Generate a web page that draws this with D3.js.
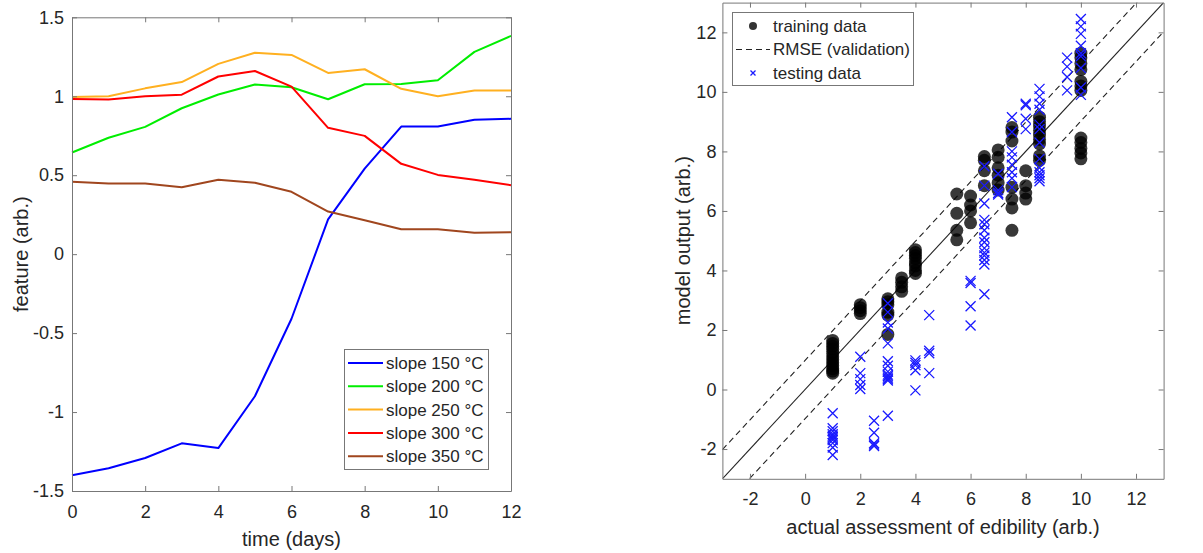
<!DOCTYPE html>
<html>
<head>
<meta charset="utf-8">
<script src="https://cdn.jsdelivr.net/npm/d3@7"></script>
<style>
  html, body { margin: 0; padding: 0; background: #fff; }
  svg { display: block; font-family: "Liberation Sans", Arial, Helvetica, sans-serif; }
</style>
</head>
<body>
<svg id="fig" width="1203" height="553"></svg>
<script>
// ---- feature curves (left panel) ----
const days = [0, 1, 2, 3, 4, 5, 6, 7, 8, 9, 10, 11, 12];
const slope150 = [-1.40, -1.356, -1.291, -1.198, -1.228, -0.90, -0.409, 0.22, 0.542, 0.808, 0.808, 0.851, 0.857];
const slope200 = [0.644, 0.737, 0.806, 0.924, 1.011, 1.074, 1.057, 0.981, 1.076, 1.078, 1.101, 1.281, 1.382];
const slope250 = [0.996, 1.0, 1.05, 1.09, 1.205, 1.275, 1.262, 1.148, 1.171, 1.047, 1.0, 1.036, 1.036];
const slope300 = [0.983, 0.979, 1.0, 1.01, 1.125, 1.16, 1.061, 0.80, 0.749, 0.572, 0.502, 0.471, 0.437];
const slope350 = [0.458, 0.447, 0.447, 0.424, 0.471, 0.452, 0.395, 0.27, 0.215, 0.158, 0.158, 0.135, 0.139];
const seriesNames = ["slope 150 °C", "slope 200 °C", "slope 250 °C", "slope 300 °C", "slope 350 °C"];
const seriesColors = ["#0000ff", "#00ee00", "#ffb020", "#ff0000", "#a0461e"];
const leftXTicks = [0, 2, 4, 6, 8, 10, 12];
const leftYTicks = [-1.5, -1, -0.5, 0, 0.5, 1, 1.5];

// ---- model predictions (right panel) ----
const trainLevels = [1, 2, 3, 3.5, 4, 5.5, 6, 6.5, 7, 7.5, 8, 8.5, 10];
const trainOutputs = [
  [1.65, 1.55, 1.45, 1.35, 1.22, 1.1, 1.0, 0.9, 0.8, 0.7, 0.62, 0.55],
  [2.85, 2.75, 2.65, 2.55],
  [3.05, 2.95, 2.85, 2.6, 2.5, 1.85],
  [3.75, 3.6, 3.45, 3.3],
  [4.7, 4.6, 4.5, 4.4, 4.25, 4.15, 4.0, 3.9],
  [6.57, 5.92, 5.35, 5.03],
  [6.5, 6.2, 6.0, 5.6],
  [7.83, 7.7, 7.35, 6.85],
  [8.05, 7.8, 7.45, 7.2, 6.95, 6.7],
  [8.8, 8.65, 8.35, 6.8, 6.4, 6.1, 5.35],
  [7.35, 6.85, 6.6, 6.4],
  [9.15, 9.0, 8.85, 8.7, 8.55, 8.4, 8.25, 7.85, 7.7],
  [11.3, 11.15, 10.95, 10.75, 10.35, 10.2, 10.05, 8.45, 8.3, 8.1, 7.95, 7.75]
];
const testLevels = [1, 2, 2.5, 3, 4, 4.5, 6, 6.5, 7, 7.5, 8, 8.5, 9.5, 10];
const testOutputs = [
  [-0.8, -1.3, -1.4, -1.5, -1.55, -1.6, -1.65, -1.7, -1.8, -1.95, -2.2],
  [1.1, 0.55, 0.35, 0.15, 0.02],
  [-1.05, -1.45, -1.8, -1.9, -1.85],
  [2.9, 2.6, 2.25, 2.05, 1.55, 0.95, 0.8, 0.6, 0.5, 0.45, 0.4, 0.35, 0.3, -0.88],
  [0.98, 0.9, 0.82, 0.65, -0.03],
  [2.5, 1.3, 1.22, 0.55],
  [3.65, 3.58, 2.8, 2.15],
  [7.5, 6.85, 6.25, 5.7, 5.55, 5.35, 5.1, 4.95, 4.75, 4.6, 4.5, 4.35, 4.2, 3.2],
  [7.25, 6.7, 6.6, 6.55],
  [9.15, 8.65, 8.0, 7.8, 7.55, 7.3, 7.1, 6.8],
  [9.6, 9.55, 9.1, 8.75],
  [10.1, 9.85, 9.6, 9.4, 8.9, 8.75, 8.3, 7.75, 7.45, 7.3, 7.2, 7.1, 7.0],
  [11.15, 10.85, 10.5, 10.05],
  [12.45, 12.2, 11.95, 11.55, 11.3, 11.2, 10.8, 10.15, 9.9]
];
const rmseValidation = 0.98;
const rightTicks = [-2, 0, 2, 4, 6, 8, 10, 12];
const legendRight = ["training data", "RMSE (validation)", "testing data"];

const svg = d3.select("#fig");
const axisColor = "#777";
const textColor = "#262626";

function styleAxis(g) {
  g.selectAll("path.domain").attr("stroke", axisColor).attr("stroke-width", 1);
  g.selectAll(".tick line").attr("stroke", axisColor).attr("stroke-width", 1);
  g.selectAll(".tick text").attr("fill", textColor).style("font-size", "18px")
    .style("font-family", '"Liberation Sans", Arial, sans-serif');
}

function frame(x, y, x0, x1, y0, y1, xt, yt, padX, padY) {
  const g = svg.append("g");
  g.append("g").attr("transform", `translate(0,${y0})`)
    .call(d3.axisBottom(x).tickValues(xt).tickFormat(d => String(d)).tickSizeInner(-5).tickSizeOuter(0).tickPadding(padX))
    .call(styleAxis);
  g.append("g").attr("transform", `translate(0,${y1})`)
    .call(d3.axisTop(x).tickValues(xt).tickFormat("").tickSizeInner(-5).tickSizeOuter(0))
    .call(styleAxis);
  g.append("g").attr("transform", `translate(${x0},0)`)
    .call(d3.axisLeft(y).tickValues(yt).tickFormat(d => String(d)).tickSizeInner(-5).tickSizeOuter(0).tickPadding(padY))
    .call(styleAxis);
  g.append("g").attr("transform", `translate(${x1},0)`)
    .call(d3.axisRight(y).tickValues(yt).tickFormat("").tickSizeInner(-5).tickSizeOuter(0))
    .call(styleAxis);
  return g;
}

// ================= left panel =================
{
  const x0 = 72, x1 = 511, yTop = 17.3, yBot = 491;
  const x = d3.scaleLinear().domain([0, 12]).range([x0, x1]);
  const y = d3.scaleLinear().domain([-1.5, 1.5]).range([yBot, yTop]);

  const series = [slope150, slope200, slope250, slope300, slope350];
  const line = d3.line().x((d, i) => x(days[i])).y(d => y(d));
  const plot = svg.append("g");
  series.forEach((s, k) => {
    plot.append("path").datum(s).attr("d", line)
      .attr("fill", "none").attr("stroke", seriesColors[k]).attr("stroke-width", 2)
      .attr("stroke-linejoin", "round");
  });

  frame(x, y, x0, x1, yBot, yTop, leftXTicks, leftYTicks, 14, 8);

  svg.append("text").attr("x", (x0 + x1) / 2).attr("y", 546)
    .attr("text-anchor", "middle").attr("fill", textColor).style("font-size", "20px")
    .text("time (days)");
  svg.append("text").attr("transform", `translate(28,${(yTop + yBot) / 2}) rotate(-90)`)
    .attr("text-anchor", "middle").attr("fill", textColor).style("font-size", "20px")
    .text("feature (arb.)");

  // legend
  const lg = svg.append("g");
  lg.append("rect").attr("x", 344.5).attr("y", 349.5).attr("width", 144).attr("height", 120)
    .attr("fill", "#fff").attr("stroke", axisColor).attr("stroke-width", 1);
  seriesNames.forEach((name, k) => {
    const yy = 363 + k * 23.3;
    lg.append("line").attr("x1", 348).attr("x2", 383).attr("y1", yy).attr("y2", yy)
      .attr("stroke", seriesColors[k]).attr("stroke-width", 2);
    lg.append("text").attr("x", 386).attr("y", yy).attr("dy", "0.35em")
      .attr("fill", textColor).style("font-size", "17px").text(name);
  });
}

// ================= right panel =================
{
  const x0 = 722.4, x1 = 1163.6, yTop = 2.6, yBot = 478.8;
  const x = d3.scaleLinear().domain([-3, 13]).range([x0, x1]);
  const y = d3.scaleLinear().domain([-3, 13]).range([yBot, yTop]);

  svg.append("defs").append("clipPath").attr("id", "clipR")
    .append("rect").attr("x", x0).attr("y", yTop).attr("width", x1 - x0).attr("height", yBot - yTop);
  const plot = svg.append("g").attr("clip-path", "url(#clipR)");

  // identity line and +/- RMSE band
  const ref = [-3, 13];
  const lineFn = off => d3.line().x(d => x(d)).y(d => y(d + off));
  plot.append("path").datum(ref).attr("d", lineFn(0))
    .attr("stroke", "#222").attr("stroke-width", 1.1).attr("fill", "none");
  [rmseValidation, -rmseValidation].forEach(off => {
    plot.append("path").datum(ref).attr("d", lineFn(off))
      .attr("stroke", "#222").attr("stroke-width", 1.1).attr("fill", "none")
      .attr("stroke-dasharray", "6,4");
  });

  // training points
  const train = [];
  trainLevels.forEach((lv, i) => trainOutputs[i].forEach(v => train.push([lv, v])));
  plot.append("g").selectAll("circle").data(train).join("circle")
    .attr("cx", d => x(d[0])).attr("cy", d => y(d[1])).attr("r", 6.5)
    .attr("fill", "#000").attr("fill-opacity", 0.78);

  // testing points
  const test = [];
  testLevels.forEach((lv, i) => testOutputs[i].forEach(v => test.push([lv, v])));
  const s = 5;
  plot.append("g").selectAll("path").data(test).join("path")
    .attr("d", d => {
      const cx = x(d[0]), cy = y(d[1]);
      return `M${cx - s},${cy - s}L${cx + s},${cy + s}M${cx - s},${cy + s}L${cx + s},${cy - s}`;
    })
    .attr("stroke", "#1a1aff").attr("stroke-width", 1.3).attr("fill", "none");

  frame(x, y, x0, x1, yBot, yTop, rightTicks, rightTicks, 13, 6);

  svg.append("text").attr("x", (x0 + x1) / 2).attr("y", 534)
    .attr("text-anchor", "middle").attr("fill", textColor).style("font-size", "20px")
    .text("actual assessment of edibility (arb.)");
  svg.append("text").attr("transform", `translate(690,${(yTop + yBot) / 2}) rotate(-90)`)
    .attr("text-anchor", "middle").attr("fill", textColor).style("font-size", "20px")
    .text("model output (arb.)");

  // legend
  const lg = svg.append("g");
  lg.append("rect").attr("x", 732.5).attr("y", 12.5).attr("width", 181).attr("height", 73)
    .attr("fill", "#fff").attr("stroke", axisColor).attr("stroke-width", 1);
  const ly = [26, 49.5, 73];
  lg.append("circle").attr("cx", 753).attr("cy", ly[0]).attr("r", 4)
    .attr("fill", "#000").attr("fill-opacity", 0.8);
  lg.append("line").attr("x1", 736).attr("x2", 770).attr("y1", ly[1]).attr("y2", ly[1])
    .attr("stroke", "#222").attr("stroke-width", 1.1).attr("stroke-dasharray", "6,4");
  const m = 2.5;
  lg.append("path")
    .attr("d", `M${753 - m},${ly[2] - m}L${753 + m},${ly[2] + m}M${753 - m},${ly[2] + m}L${753 + m},${ly[2] - m}`)
    .attr("stroke", "#1a1aff").attr("stroke-width", 1.3);
  legendRight.forEach((t, k) => {
    lg.append("text").attr("x", 773).attr("y", ly[k]).attr("dy", "0.35em")
      .attr("fill", textColor).style("font-size", "17px").text(t);
  });
}
</script>
</body>
</html>
